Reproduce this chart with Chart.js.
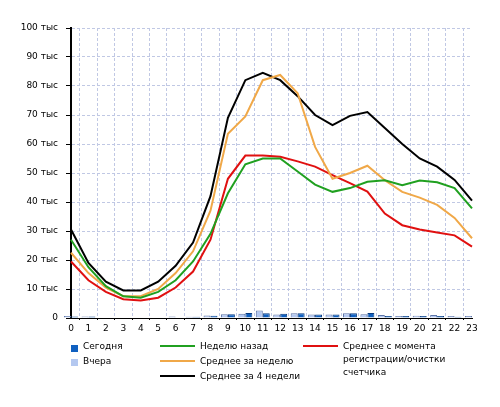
<!DOCTYPE html>
<html>
<head>
<meta charset="utf-8">
<script src="https://cdn.jsdelivr.net/npm/chart.js@4.4.0/dist/chart.umd.min.js"></script>
<style>
  body { margin: 0; background: #fff; }
  #wrap { position: relative; width: 500px; height: 407px; font-family: "DejaVu Sans", sans-serif; font-size: 9px; color: #000; }
  #chart { position: absolute; left: 0; top: 0; }
  .lg { position: absolute; line-height: 13px; white-space: nowrap; }
  .box { position: absolute; width: 7px; height: 7px; }
  .ln { position: absolute; width: 35px; height: 2px; }
</style>
</head>
<body>
<div id="wrap">
  <canvas id="chart" width="500" height="407"></canvas>

  <div class="box" style="left:71px;top:345px;background:#1060c0"></div>
  <div class="lg" style="left:83px;top:340px">Сегодня</div>
  <div class="box" style="left:71px;top:359px;background:#b4c8f0"></div>
  <div class="lg" style="left:83px;top:355px">Вчера</div>

  <div class="ln" style="left:160px;top:345px;background:#20a020"></div>
  <div class="lg" style="left:200px;top:340px">Неделю назад</div>
  <div class="ln" style="left:160px;top:360px;background:#f0a848"></div>
  <div class="lg" style="left:200px;top:355px">Среднее за неделю</div>
  <div class="ln" style="left:160px;top:375px;background:#000"></div>
  <div class="lg" style="left:200px;top:370px">Среднее за 4 недели</div>

  <div class="ln" style="left:303px;top:345px;background:#e01010"></div>
  <div class="lg" style="left:343px;top:340px">Среднее с момента<br>регистрации/очистки<br>счетчика</div>
</div>

<script>
const hours = ["0","1","2","3","4","5","6","7","8","9","10","11","12","13","14","15","16","17","18","19","20","21","22","23"];

// values in thousands
const today = [0.5, 0.5, 0.2, 0.2, 0.2, 0.2, 0.2, 0.4, 0.8, 1.3, 1.7, 1.6, 1.5, 1.6, 1.2, 1.2, 1.6, 1.7, 0.7, 0.7, 0.7, 0.7, 0.4, 0];
const yesterday = [0.7, 0.5, 0.2, 0.2, 0.2, 0.2, 0.5, 0.4, 0.9, 1.3, 1.5, 2.6, 1.2, 1.6, 1.2, 1.2, 1.6, 1.3, 1.0, 0.7, 0.8, 1.0, 0.7, 0.7];

const weekAgo = [27, 17.5, 11, 7.5, 7, 9, 13, 19.5, 29, 43, 53, 55, 55, 50.5, 46, 43.5, 44.8, 47, 47.5, 45.8, 47.4, 46.8, 44.8, 37.8];
const weekAvg = [22.5, 15.5, 10.5, 7.5, 7.5, 10, 15.5, 23, 37, 63.5, 69.5, 82, 83.8, 77.5, 59, 48, 50, 52.5, 47.5, 43.5, 41.5, 39, 34.5, 27.5];
const monthAvg = [30.5, 19, 12.5, 9.5, 9.5, 12.5, 18, 26, 42, 69, 82, 84.5, 82, 76.5, 70, 66.5, 69.7, 71, 65.5, 60, 55, 52.2, 47.6, 40.5];
const allTimeAvg = [19.5, 13, 9, 6.5, 6, 7, 10.5, 16, 27, 48, 56, 56, 55.6, 54, 52.2, 49.3, 46.5, 43.6, 36, 32, 30.5, 29.5, 28.5, 24.6];

const yTicks = ["0", "10 тыс", "20 тыс", "30 тыс", "40 тыс", "50 тыс", "60 тыс", "70 тыс", "80 тыс", "90 тыс", "100 тыс"];

const tickFont = { family: "DejaVu Sans", size: 9 };

const line = (data, color) => ({
  type: "line",
  data: data,
  borderColor: color,
  borderWidth: 2,
  pointRadius: 0,
  tension: 0,
  fill: false,
});

const bar = (data, color, border) => ({
  type: "bar",
  data: data,
  backgroundColor: color,
  borderColor: border,
  borderWidth: 1,
  barPercentage: 1,
  categoryPercentage: 0.8,
  clip: false,
});

new Chart(document.getElementById("chart"), {
  data: {
    labels: hours,
    datasets: [
      line(weekAgo, "#20a020"),
      line(weekAvg, "#f0a848"),
      line(monthAvg, "#000000"),
      line(allTimeAvg, "#e01010"),
      bar(yesterday, "#b4c8f0", "#5c74a8"),
      bar(today, "#1060c0", "#0a3c80"),
    ],
  },
  options: {
    responsive: false,
    animation: false,
    layout: { padding: { left: 0, top: 28, right: 28, bottom: 75 } },
    plugins: { legend: { display: false }, tooltip: { enabled: false } },
    scales: {
      x: {
        type: "category",
        offset: false,
        afterFit: (s) => { s.height = 14; },
        ticks: { font: tickFont, color: "#000", padding: 3, maxRotation: 0, autoSkip: false },
        grid: { color: "#c0c8e4", tickColor: "#000", tickLength: 2, tickBorderDash: [] },
        border: { color: "#000", width: 1, dash: [3, 2] },
      },
      y: {
        min: 0,
        max: 100,
        afterFit: (s) => { s.width = 71; },
        ticks: {
          stepSize: 10,
          font: tickFont,
          color: "#000",
          padding: 8,
          callback: (v) => yTicks[Math.round(v / 10)],
        },
        grid: { color: "#c0c8e4", tickColor: "#000", tickLength: 5, tickBorderDash: [] },
        border: { color: "#000", width: 2, dash: [3, 2] },
      },
    },
  },
});
</script>
</body>
</html>
